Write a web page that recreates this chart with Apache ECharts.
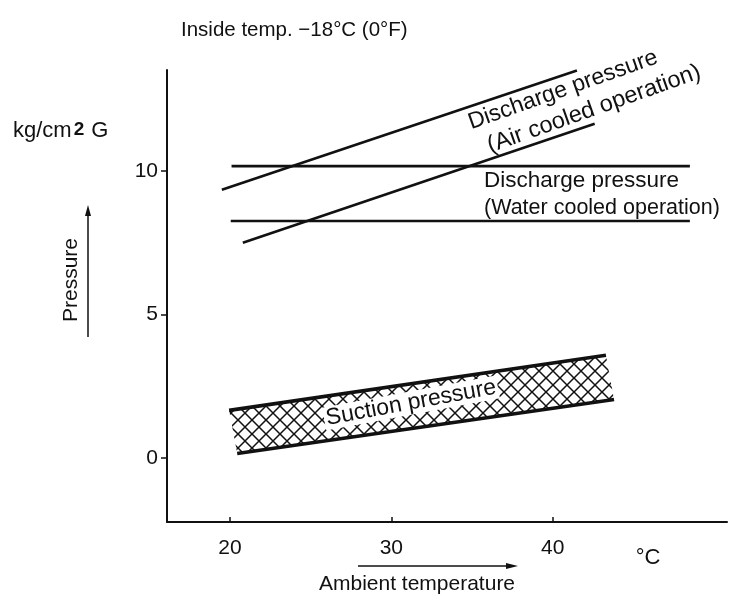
<!DOCTYPE html>
<html>
<head>
<meta charset="utf-8">
<script src="https://cdn.jsdelivr.net/npm/echarts@6/dist/echarts.min.js"></script>
<style>html,body{margin:0;padding:0;background:#fff}#c{width:749px;height:596px}</style>
</head>
<body>
<div id="c"></div>
<script>
// ---- data ----
var xTicks = [20, 30, 40];
var yTicks = [0, 5, 10];
var airCooledUpper = [[19.5, 9.35], [41.5, 13.5]];
var airCooledLower = [[20.8, 7.5], [42.6, 11.65]];
var waterCooledUpper = [[20.1, 10.17], [48.5, 10.17]];
var waterCooledLower = [[20.05, 8.26], [48.5, 8.26]];
var suctionUpper = [[19.95, 1.66], [43.3, 3.58]];
var suctionLower = [[20.45, 0.16], [43.8, 2.04]];

var FONT = 'Liberation Sans';
var chart = echarts.init(document.getElementById('c'));

// cross-hatch pattern
var pc = document.createElement('canvas');
var S = 14;
pc.width = S; pc.height = S;
var g = pc.getContext('2d');
g.strokeStyle = '#111';
g.lineWidth = 1.5;
g.beginPath();
g.moveTo(0, 0); g.lineTo(S, S);
g.moveTo(S, 0); g.lineTo(0, S);
g.stroke();
var hatch = {image: pc, repeat: 'repeat'};

function lineSeries(data, w) {
  return {
    type: 'line', data: data, symbol: 'none', silent: true,
    lineStyle: {color: '#111', width: w}, animation: false, z: 3
  };
}

var bandPolygon = suctionUpper.concat(suctionLower.slice().reverse());

var option = {
  animation: false,
  backgroundColor: '#fff',
  title: {
    text: 'Inside temp. \u221218\u00B0C (0\u00B0F)',
    left: 176, top: 15,
    textStyle: {fontFamily: FONT, fontSize: 20.5, fontWeight: 'normal', color: '#111'}
  },
  grid: {left: 167, right: 22, top: 70, bottom: 74, outerBoundsMode: 'none'},
  xAxis: {
    type: 'value', min: 16.1, max: 50.8,
    axisLine: {show: true, onZero: false, lineStyle: {color: '#111', width: 2}},
    axisTick: {show: true, inside: true, length: 5, lineStyle: {color: '#111', width: 1.5}, customValues: xTicks},
    axisLabel: {fontFamily: FONT, fontSize: 21, color: '#111', margin: 16, customValues: xTicks},
    splitLine: {show: false}
  },
  yAxis: {
    type: 'value', min: -2.23, max: 13.52,
    axisLine: {show: true, lineStyle: {color: '#111', width: 2}},
    axisTick: {show: true, length: 6, lineStyle: {color: '#111', width: 1.5}, customValues: yTicks},
    axisLabel: {fontFamily: FONT, fontSize: 21, color: '#111', margin: 9, customValues: yTicks},
    splitLine: {show: false}
  },
  series: [
    {
      type: 'custom', silent: true, z: 1,
      data: [[bandPolygon[0][0], bandPolygon[0][1]]],
      renderItem: function (params, api) {
        var pts = bandPolygon.map(function (p) { return api.coord(p); });
        return {type: 'polygon', shape: {points: pts}, style: {fill: hatch, stroke: null}};
      }
    },
    lineSeries(airCooledUpper, 2.6),
    lineSeries(airCooledLower, 2.6),
    lineSeries(waterCooledUpper, 2.6),
    lineSeries(waterCooledLower, 2.6),
    lineSeries(suctionUpper, 3.6),
    lineSeries(suctionLower, 3.6)
  ],
  graphic: [
    {type: 'text', x: 13, y: 131, style: {
      text: '{a|kg/cm}{b|2}{a|G}', fill: '#111', verticalAlign: 'middle',
      rich: {a: {fontFamily: FONT, fontSize: 22, color: '#111'}, b: {fontFamily: FONT, fontSize: 19, fontWeight: 'bold', color: '#111', padding: [0, 7, 3, 2]}}
    }},
    {type: 'text', x: 71, y: 280, rotation: Math.PI / 2, style: {
      text: 'Pressure', fontFamily: FONT, fontSize: 21, fill: '#111', align: 'center', verticalAlign: 'middle'}},
    {type: 'line', shape: {x1: 88, y1: 337, x2: 88, y2: 214}, style: {stroke: '#111', lineWidth: 1.5}},
    {type: 'polygon', shape: {points: [[88, 205], [85, 216], [91, 216]]}, style: {fill: '#111'}},
    {type: 'line', shape: {x1: 358, y1: 566, x2: 508, y2: 566}, style: {stroke: '#111', lineWidth: 1.5}},
    {type: 'polygon', shape: {points: [[518, 566], [506, 563], [506, 569]]}, style: {fill: '#111'}},
    {type: 'text', x: 417, y: 584, style: {
      text: 'Ambient temperature', fontFamily: FONT, fontSize: 21, fill: '#111', align: 'center', verticalAlign: 'middle'}},
    {type: 'text', x: 648, y: 558, style: {
      text: '\u00B0C', fontFamily: FONT, fontSize: 22, fill: '#111', align: 'center', verticalAlign: 'middle'}},
    {type: 'text', x: 563, y: 90, rotation: 19.5 * Math.PI / 180, style: {
      text: 'Discharge pressure', fontFamily: FONT, fontSize: 23, fill: '#111', align: 'center', verticalAlign: 'middle'}},
    {type: 'text', x: 594, y: 109, rotation: 19.5 * Math.PI / 180, style: {
      text: '(Air cooled operation)', fontFamily: FONT, fontSize: 23.5, fill: '#111', align: 'center', verticalAlign: 'middle'}},
    {type: 'text', x: 484, y: 181, style: {
      text: 'Discharge pressure', fontFamily: FONT, fontSize: 22.5, fill: '#111', align: 'left', verticalAlign: 'middle'}},
    {type: 'text', x: 484, y: 208, style: {
      text: '(Water cooled operation)', fontFamily: FONT, fontSize: 21.5, fill: '#111', align: 'left', verticalAlign: 'middle'}},
    {type: 'text', x: 411, y: 403, rotation: 10.5 * Math.PI / 180, z: 10, style: {
      text: 'Suction pressure', fontFamily: FONT, fontSize: 23, fill: '#111', align: 'center', verticalAlign: 'middle',
      backgroundColor: '#fff', padding: [0, 2, 0, 2]}}
  ]
};
chart.setOption(option);
</script>
</body>
</html>
